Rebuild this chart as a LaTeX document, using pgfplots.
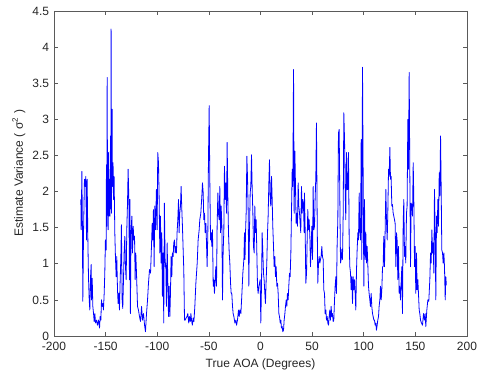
\documentclass[border=0pt]{standalone}
\usepackage{pgfplots}
\pgfplotsset{compat=1.18}
\usepackage{fontspec}
\setmainfont{Liberation Sans}
\definecolor{mblue}{RGB}{0,0,255}
\definecolor{frame}{RGB}{90,90,90}
\begin{document}
\fontsize{9}{11}\selectfont
\begin{tikzpicture}
\useasboundingbox (-40.5pt,-30.75pt) rectangle (318.75pt,252pt);
\begin{axis}[
  scale only axis,
  width=309.75pt, height=243.75pt,
  xmin=-200, xmax=200, ymin=0, ymax=4.5,
  xtick={-200,-150,...,200},
  ytick={0,0.5,...,4.5},
  tick align=inside,
  tick pos=both,
  major tick length=3pt,
  axis line style={frame, line width=0.6pt},
  tick style={frame, line width=0.5pt},
  /pgf/number format/assume math mode=true,
  ticklabel style={font=\fontsize{9}{11}\selectfont, text=black!85},
  xticklabel style={yshift=-1.5pt},
  yticklabel style={xshift=-0.5pt},
  label style={font=\fontsize{9}{11}\selectfont, text=black!85},
  xlabel={True AOA (Degrees)},
  ylabel={Estimate Variance ( σ\textsuperscript{2} )},
  xlabel style={yshift=0pt},
  ylabel style={yshift=-1pt},
  every axis plot/.append style={line join=round},
]
\addplot[mblue, line width=0.6pt] table {
x y
-174.0 1.89
-173.7 1.47
-173.0 2.28
-172.4 1.38
-172.1 0.48
-171.4 1.43
-170.5 2.17
-169.8 2.07
-169.2 2.21
-168.5 1.33
-167.9 2.17
-167.2 1.33
-166.6 0.82
-165.9 0.50
-165.3 0.36
-164.6 0.82
-164.0 0.99
-163.7 0.50
-163.0 0.80
-162.4 0.41
-161.7 0.31
-161.1 0.20
-160.4 0.31
-159.8 0.18
-158.8 0.22
-157.9 0.15
-156.9 0.22
-155.9 0.11
-155.3 0.27
-154.6 0.22
-154.0 0.50
-153.4 0.41
-152.7 0.45
-152.1 0.36
-151.4 0.59
-150.8 0.87
-150.2 1.33
-149.5 1.19
-149.2 2.37
-148.9 1.52
-148.5 3.58
-148.2 2.07
-147.6 1.47
-147.3 2.54
-146.6 1.66
-146.3 2.17
-145.7 1.66
-145.3 2.77
-145.0 1.89
-144.7 4.25
-144.4 1.70
-143.7 3.14
-143.4 2.07
-142.8 2.40
-142.4 1.89
-141.8 2.21
-141.1 1.43
-140.5 1.10
-139.8 0.82
-139.2 1.10
-138.5 0.64
-137.9 0.45
-137.2 0.59
-136.6 0.36
-135.9 0.78
-135.3 1.06
-134.7 1.54
-134.0 0.50
-133.4 0.38
-132.7 0.78
-132.1 1.15
-131.4 1.38
-130.8 0.96
-130.1 0.78
-129.5 1.47
-128.8 1.84
-128.2 2.31
-127.5 1.89
-126.9 0.78
-126.5 1.89
-126.0 0.31
-125.4 1.43
-124.6 1.66
-124.0 1.15
-123.3 1.52
-122.7 1.33
-122.0 1.38
-121.4 0.78
-120.8 1.15
-120.1 0.87
-119.1 0.41
-118.2 0.36
-117.2 0.27
-116.2 0.20
-115.2 0.41
-114.3 0.22
-113.3 0.31
-112.3 0.15
-111.4 0.06
-110.4 0.31
-109.4 0.50
-108.5 0.73
-107.5 0.92
-106.5 0.87
-105.6 1.24
-104.9 1.56
-104.3 1.33
-103.7 1.75
-103.0 0.96
-102.4 1.80
-101.7 1.47
-100.8 2.03
-100.1 1.47
-99.5 2.54
-98.8 2.40
-98.2 1.94
-97.5 1.15
-96.9 1.66
-96.3 1.01
-95.6 1.43
-95.0 0.55
-94.3 1.15
-93.7 0.18
-93.1 1.84
-92.3 0.96
-91.7 1.01
-91.1 0.41
-90.4 1.29
-89.8 0.78
-89.1 0.27
-88.5 0.69
-87.8 0.27
-87.2 0.59
-86.6 1.10
-85.9 0.82
-85.3 1.15
-84.6 1.10
-84.0 1.29
-83.3 1.33
-82.7 1.15
-82.0 1.24
-81.4 1.15
-80.8 1.43
-80.1 1.61
-79.4 1.89
-78.8 1.43
-78.2 1.70
-77.5 1.80
-76.9 2.07
-76.2 1.75
-75.6 1.52
-74.9 1.19
-74.3 0.92
-73.6 0.22
-73.0 0.22
-72.1 0.25
-71.1 0.27
-70.4 0.31
-69.5 0.18
-68.8 0.27
-68.0 0.20
-67.4 0.31
-66.8 0.22
-66.0 0.15
-65.2 0.25
-64.5 0.20
-63.6 0.41
-62.6 0.73
-61.3 1.01
-60.4 1.33
-59.4 1.47
-58.8 1.61
-57.8 1.70
-56.8 1.94
-56.2 2.12
-55.5 1.98
-54.9 1.61
-54.2 1.70
-53.6 1.43
-52.9 1.56
-52.3 1.29
-51.7 0.96
-51.0 1.43
-50.4 2.44
-49.7 3.19
-49.1 2.17
-48.4 1.33
-47.8 1.43
-47.1 1.24
-46.5 1.47
-45.8 0.69
-45.2 0.78
-44.6 0.59
-43.9 0.78
-43.3 0.96
-42.6 0.69
-42.0 1.52
-41.3 1.98
-40.7 1.70
-40.0 1.61
-39.4 2.07
-38.7 1.43
-38.1 1.80
-37.4 1.52
-36.8 0.50
-36.2 1.15
-35.5 1.47
-34.9 2.35
-34.2 1.89
-33.6 2.12
-32.9 1.70
-32.3 2.68
-31.6 1.89
-31.0 1.43
-30.3 1.15
-29.7 1.01
-29.0 0.73
-28.4 0.59
-27.8 0.59
-27.1 0.41
-26.5 0.31
-25.8 0.27
-24.8 0.18
-23.9 0.22
-23.2 0.15
-22.3 0.22
-21.3 0.36
-20.6 0.27
-20.0 0.36
-19.0 0.31
-18.0 0.59
-17.1 0.87
-16.1 1.06
-15.5 1.43
-15.0 1.06
-14.5 1.43
-13.9 1.70
-13.2 2.49
-12.6 2.21
-11.9 1.70
-11.3 0.69
-10.7 1.43
-10.0 1.98
-9.4 2.07
-8.7 2.51
-8.1 2.07
-7.4 1.70
-6.8 1.24
-6.1 1.15
-5.5 1.80
-4.8 1.43
-4.2 1.61
-3.6 1.20
-2.9 0.69
-2.3 0.59
-1.6 0.69
-1.0 0.73
-0.3 0.78
0.3 0.18
1.0 0.73
1.6 1.43
2.3 1.15
2.9 0.87
3.5 0.78
4.2 0.59
4.8 0.45
5.5 0.78
6.1 1.01
6.8 1.43
7.4 1.66
8.1 2.12
8.7 2.44
9.4 1.89
10.0 1.80
10.7 2.21
11.3 1.89
11.9 1.52
12.6 1.24
13.2 0.96
13.9 1.10
14.5 0.82
15.2 0.96
15.8 0.69
16.5 0.73
17.1 0.59
17.8 0.31
18.4 0.27
19.1 0.18
19.7 0.22
20.3 0.11
21.0 0.13
21.6 0.06
22.3 0.08
22.9 0.22
23.6 0.31
24.2 0.41
24.9 0.50
25.5 0.41
26.1 0.59
26.8 0.50
27.4 0.69
28.1 0.87
28.7 0.82
29.4 1.15
30.0 1.70
30.7 2.31
31.3 2.07
32.0 3.69
32.6 1.70
33.3 2.56
33.9 2.07
34.5 1.56
35.2 1.70
35.8 1.52
36.5 2.12
37.1 1.80
37.8 1.70
38.4 1.56
39.0 1.43
39.7 2.07
40.3 1.70
41.0 1.89
41.6 1.84
42.3 1.43
42.6 1.98
43.3 1.43
43.9 0.73
44.6 0.87
45.2 1.33
45.8 1.75
46.5 1.47
47.1 1.61
47.8 1.38
48.4 0.96
49.1 1.24
49.7 1.52
50.4 1.06
51.0 2.07
51.6 1.47
52.3 1.52
52.9 1.89
53.6 2.21
54.2 2.95
54.9 1.61
55.5 0.73
56.2 1.01
56.8 1.10
57.5 1.01
58.1 1.06
58.7 1.10
59.4 1.24
60.0 1.10
60.7 1.06
61.3 0.64
62.0 0.59
62.6 0.31
63.3 0.36
63.9 0.22
64.6 0.27
65.2 0.18
65.9 0.15
66.5 0.27
67.1 0.36
67.8 0.22
68.4 0.41
69.1 0.27
69.7 0.31
70.4 0.20
71.0 0.22
71.7 0.50
72.3 0.69
73.0 0.82
73.6 0.59
74.2 1.24
74.9 1.61
75.5 2.81
76.2 2.86
76.8 1.94
77.5 1.01
78.1 1.06
78.8 1.20
79.4 1.06
80.1 1.70
80.7 3.09
81.4 2.72
82.0 2.03
82.6 1.61
83.3 2.54
83.9 2.03
84.6 2.03
85.2 2.54
85.9 1.33
86.5 0.96
87.2 0.87
87.8 0.64
88.5 0.82
89.1 0.45
89.8 0.82
90.4 0.64
91.1 0.78
91.7 0.59
92.3 0.36
93.0 0.92
93.6 1.19
94.3 1.43
94.9 1.33
95.6 1.98
96.2 1.43
96.9 1.33
97.5 2.72
98.1 1.06
98.8 3.72
99.4 2.26
100.1 0.69
100.7 1.89
101.4 1.06
102.0 1.43
102.7 1.01
103.3 1.24
104.0 0.96
104.6 0.69
105.2 0.59
105.9 0.50
106.5 0.41
107.2 0.59
107.8 0.41
108.5 0.31
109.1 0.27
109.8 0.22
110.4 0.22
111.0 0.15
111.7 0.18
112.3 0.08
113.0 0.15
113.6 0.22
114.3 0.27
114.9 0.41
115.6 0.50
116.2 0.69
116.9 0.50
117.5 0.64
118.2 0.96
118.8 0.96
119.4 1.38
120.1 0.96
120.7 1.43
121.4 2.03
122.0 1.61
122.7 1.33
123.3 1.70
124.0 2.31
124.6 2.21
125.3 2.61
125.9 2.17
126.5 2.21
127.2 1.80
127.8 1.82
128.5 1.70
129.1 1.66
129.8 1.61
130.4 1.56
131.1 0.96
131.7 1.43
132.3 1.33
133.0 0.78
133.6 1.24
134.3 0.59
134.9 0.69
135.6 0.50
136.2 0.73
136.9 0.96
137.5 0.31
138.2 1.56
138.8 1.89
139.5 1.10
140.1 1.24
140.7 1.01
141.4 1.70
142.0 1.80
142.7 3.00
143.3 2.31
144.0 3.65
144.6 2.31
145.3 0.96
145.9 1.84
146.6 1.80
147.2 1.66
147.9 2.40
148.5 1.89
149.2 0.96
149.8 1.24
150.4 0.59
151.1 1.15
151.7 0.64
152.4 0.78
153.0 0.59
153.7 0.36
154.3 0.31
155.0 0.22
155.9 0.18
156.9 0.15
157.9 0.31
158.8 0.22
159.5 0.31
160.1 0.13
161.1 0.36
162.1 0.50
163.0 0.48
164.0 0.78
164.7 1.15
165.3 1.01
166.0 1.47
166.6 1.15
167.2 1.29
167.9 0.87
168.5 2.03
169.2 1.43
169.8 0.50
170.5 1.66
171.1 1.43
171.8 1.89
172.4 1.52
173.1 2.26
173.7 1.94
174.4 2.77
175.0 2.03
175.6 1.19
176.3 1.15
176.9 1.01
177.6 1.15
178.2 0.96
178.9 0.50
179.5 0.82
180.0 0.70
};
\end{axis}
\end{tikzpicture}
\end{document}
